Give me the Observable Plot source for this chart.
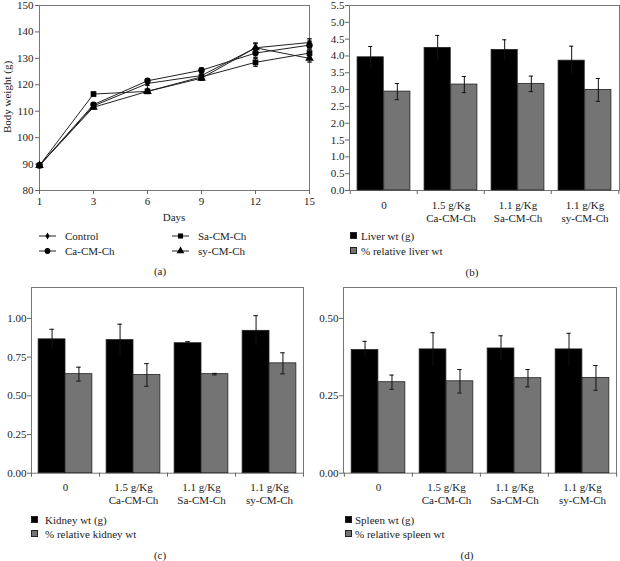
<!DOCTYPE html>
<html><head><meta charset="utf-8">
<script src="https://cdn.jsdelivr.net/npm/d3@7"></script>
<script src="https://cdn.jsdelivr.net/npm/@observablehq/plot@0.6"></script>
<style>
body{margin:0;background:#fff;font-family:"Liberation Serif","DejaVu Serif",serif;}
#root{position:relative;width:620px;height:561px;overflow:hidden;background:#fff;}
.txt{position:absolute;font-size:11px;color:#222;white-space:nowrap;line-height:1;}
</style></head><body><div id="root"></div>
<script>
// ---------- data ----------
const days = [1, 3, 6, 9, 12, 15];
const seriesNames = ["Control", "Ca-CM-Ch", "Sa-CM-Ch", "sy-CM-Ch"];
const controlWt = [89.5, 112.0, 120.5, 123.5, 134.0, 136.0];
const caWt      = [89.5, 112.5, 121.5, 125.5, 132.0, 135.0];
const saWt      = [89.5, 116.5, 117.5, 123.0, 128.5, 132.0];
const syWt      = [89.5, 111.5, 117.5, 122.5, 134.0, 130.0];
const controlErr = [0.5, 0.6, 0.7, 0.8, 1.8, 1.4];
const caErr      = [0.5, 0.6, 0.7, 0.8, 1.6, 1.5];
const saErr      = [0.5, 0.6, 0.7, 0.8, 1.5, 1.5];
const syErr      = [0.5, 0.6, 0.7, 0.8, 1.6, 1.4];
const weightTicks = [80, 90, 100, 110, 120, 130, 140, 150];

const doses = ["0", "1.5 g/Kg\nCa-CM-Ch", "1.1 g/Kg\nSa-CM-Ch", "1.1 g/Kg\nsy-CM-Ch"];
const liverWt     = [3.96, 4.24, 4.18, 3.86];
const liverWtErr  = [0.32, 0.37, 0.30, 0.43];
const liverRel    = [2.94, 3.15, 3.17, 2.99];
const liverRelErr = [0.24, 0.24, 0.23, 0.34];
const liverTicks  = [0, 0.5, 1, 1.5, 2, 2.5, 3, 3.5, 4, 4.5, 5, 5.5];

const kidneyWt     = [0.865, 0.86, 0.84, 0.92];
const kidneyWtErr  = [0.065, 0.103, 0.01, 0.098];
const kidneyRel    = [0.64, 0.635, 0.64, 0.71];
const kidneyRelErr = [0.045, 0.073, 0.005, 0.068];
const kidneyTicks  = [0, 0.25, 0.5, 0.75, 1];

const spleenWt     = [0.398, 0.40, 0.403, 0.40];
const spleenWtErr  = [0.028, 0.054, 0.041, 0.052];
const spleenRel    = [0.294, 0.297, 0.307, 0.308];
const spleenRelErr = [0.023, 0.038, 0.028, 0.04];
const spleenTicks  = [0, 0.25, 0.5];

// ---------- helpers ----------
const root = document.getElementById("root");
const FONT = "'Liberation Serif', 'DejaVu Serif', serif";
function place(el, left, top) {
  el.style.position = "absolute"; el.style.left = left + "px"; el.style.top = top + "px";
  root.appendChild(el);
}
function label(text, x, y, {anchor = "start", rotate = 0, size = 11} = {}) {
  const d = document.createElement("div");
  d.className = "txt"; d.textContent = text; d.style.fontSize = size + "px";
  const tx = anchor === "middle" ? "-50%" : anchor === "end" ? "-100%" : "0";
  d.style.transform = `translate(${tx},-50%)` + (rotate ? ` rotate(${rotate}deg)` : "");
  place(d, x, y);
}
const capSymbol = {draw(ctx, size) { const r = Math.sqrt(size / Math.PI); ctx.moveTo(-r, 0); ctx.lineTo(r, 0); }};
const baseStyle = {fontFamily: FONT, fontSize: "11px", color: "#222", background: "transparent", overflow: "visible"};

// ---------- panel (a) ----------
const wSeries = [controlWt, caWt, saWt, syWt];
const wErrs = [controlErr, caErr, saErr, syErr];
const weightRows = seriesNames.flatMap((s, i) => days.map((d, j) => ({series: s, day: d, w: wSeries[i][j], e: wErrs[i][j]})));

const plotA = Plot.plot({
  width: 320, height: 230, marginLeft: 39, marginRight: 11, marginTop: 5, marginBottom: 40,
  style: baseStyle,
  x: {type: "point", domain: days, padding: 0},
  y: {domain: [80, 150]},
  symbol: {domain: seriesNames, range: ["diamond", "circle", "square", "triangle"]},
  marks: [
    Plot.frame({stroke: "#777"}),
    Plot.axisY({ticks: weightTicks, tickSize: 4, tickPadding: 2, stroke: "#666", label: null}),
    Plot.axisX({ticks: days, tickSize: 4, tickPadding: 3, stroke: "#666", label: null}),
    Plot.line(weightRows, {x: "day", y: "w", z: "series", stroke: "#222", strokeWidth: 1}),
    Plot.ruleX(weightRows, {x: "day", y1: d => d.w - d.e, y2: d => d.w + d.e, stroke: "#222"}),
    Plot.dot(weightRows, {x: "day", y: d => d.w + d.e, symbol: capSymbol, r: 2.2, stroke: "#222", fill: "none"}),
    Plot.dot(weightRows, {x: "day", y: d => d.w - d.e, symbol: capSymbol, r: 2.2, stroke: "#222", fill: "none"}),
    Plot.dot(weightRows.filter(d => d.series !== "Control"), {x: "day", y: "w", symbol: "series", fill: "#000", r: 3.2}),
    Plot.dot(weightRows.filter(d => d.series === "Control"), {x: "day", y: "w", symbol: "series", fill: "#000", r: 2.2})
  ]
});
place(plotA, 0, 0);

// ---------- bar panels ----------
function barPanel({wt, wtErr, rel, relErr, domain, ticks, fmt, width, height, ml, mr, mt, mb}) {
  const rows = doses.map((d, i) => ({dose: d, wt: wt[i], wtE: wtErr[i], rel: rel[i], relE: relErr[i]}));
  const bw = (width - ml - mr) / doses.length;
  const pad = bw * 0.105;
  const barW = bw / 2 - pad;
  const off = bw / 2 - pad - barW / 2;
  const cap = bw / 2 - 2.3;
  return Plot.plot({
    width, height, marginLeft: ml, marginRight: mr, marginTop: mt, marginBottom: mb,
    style: baseStyle,
    x: {type: "band", domain: doses, padding: 0},
    y: {domain},
    marks: [
      Plot.frame({stroke: "#777"}),
      Plot.barY(rows, {x: "dose", y: "wt", fill: "#000", stroke: "#222", strokeWidth: 0.8, insetLeft: pad, insetRight: pad + barW}),
      Plot.barY(rows, {x: "dose", y: "rel", fill: "#747474", stroke: "#222", strokeWidth: 0.8, insetLeft: pad + barW, insetRight: pad}),
      Plot.ruleX(rows, {x: "dose", y1: d => d.wt - d.wtE, y2: d => d.wt + d.wtE, dx: -off, stroke: "#111"}),
      Plot.tickY(rows, {x: "dose", y: d => d.wt + d.wtE, dx: -off, insetLeft: cap, insetRight: cap, stroke: "#111"}),
      Plot.ruleX(rows, {x: "dose", y1: d => d.rel - d.relE, y2: d => d.rel + d.relE, dx: off, stroke: "#111"}),
      Plot.tickY(rows, {x: "dose", y: d => d.rel + d.relE, dx: off, insetLeft: cap, insetRight: cap, stroke: "#111"}),
      Plot.tickY(rows, {x: "dose", y: d => d.rel - d.relE, dx: off, insetLeft: cap, insetRight: cap, stroke: "#111"}),
      Plot.axisY({ticks, tickFormat: fmt, tickSize: 4, tickPadding: 1, stroke: "#666", label: null}),
      Plot.axisX({ticks: doses, tickSize: 4, dx: -bw / 2, stroke: "#666", fill: "none", label: null}),
      Plot.axisX({ticks: [doses[doses.length - 1]], tickSize: 4, dx: bw / 2, stroke: "#666", fill: "none", label: null}),
      Plot.axisX({ticks: doses, tickSize: 0, tickPadding: 9, lineHeight: 1.18, label: null})
    ]
  });
}

const plotB = barPanel({wt: liverWt, wtErr: liverWtErr, rel: liverRel, relErr: liverRelErr,
  domain: [0, 5.5], ticks: liverTicks, fmt: d3.format(".1f"),
  width: 310, height: 230, ml: 39, mr: 1, mt: 5, mb: 40});
place(plotB, 310, 0);

const plotC = barPanel({wt: kidneyWt, wtErr: kidneyWtErr, rel: kidneyRel, relErr: kidneyRelErr,
  domain: [0, 1.2], ticks: kidneyTicks, fmt: d3.format(".2f"),
  width: 310, height: 223, ml: 31, mr: 7, mt: 7, mb: 30.3});
place(plotC, 0, 280);

const plotD = barPanel({wt: spleenWt, wtErr: spleenWtErr, rel: spleenRel, relErr: spleenRelErr,
  domain: [0, 0.6], ticks: spleenTicks, fmt: d3.format(".2f"),
  width: 310, height: 223, ml: 33, mr: 4, mt: 7, mb: 30.3});
place(plotD, 310, 280);

// ---------- texts & legends ----------
label("Body weight (g)", 7, 97, {anchor: "middle", rotate: -90});
label("Days", 174, 217, {anchor: "middle"});

function lineSwatch(symbolType, size, x, y) {
  const svg = d3.create("svg").attr("width", 18).attr("height", 8).style("overflow", "visible");
  svg.append("line").attr("x1", 0).attr("x2", 17).attr("y1", 4).attr("y2", 4).attr("stroke", "#222");
  svg.append("path").attr("transform", "translate(8.5,4)").attr("d", d3.symbol(symbolType, size)()).attr("fill", "#000");
  const n = svg.node(); place(n, x, y - 4);
}
const legA = [
  [seriesNames[0], d3.symbolDiamond, 14, 39, 236],
  [seriesNames[1], d3.symbolCircle, 26, 39, 251],
  [seriesNames[2], d3.symbolSquare, 26, 172, 236],
  [seriesNames[3], d3.symbolTriangle, 26, 172, 251]
];
legA.forEach(([name, sym, sz, x, y]) => { lineSwatch(sym, sz, x, y); label(name, x + 26, y); });
label("(a)", 160, 271, {anchor: "middle"});

function squareSwatch(fill, x, y) {
  const d = document.createElement("div");
  d.style.width = "7px"; d.style.height = "7px"; d.style.background = fill;
  d.style.border = "1px solid #222"; d.style.boxSizing = "border-box";
  place(d, x, y - 4);
}
function barLegend(names, x, y0, dy, gap) {
  squareSwatch("#000", x, y0); label(names[0], x + gap, y0);
  squareSwatch("#747474", x, y0 + dy); label(names[1], x + gap, y0 + dy);
}
barLegend(["Liver wt (g)", "% relative liver wt"], 350, 236, 15, 11);
label("(b)", 472, 272, {anchor: "middle"});
barLegend(["Kidney wt (g)", "% relative kidney wt"], 31, 520, 14, 14);
label("(c)", 160, 555, {anchor: "middle"});
barLegend(["Spleen wt (g)", "% relative spleen wt"], 345, 520, 14, 10);
label("(d)", 467, 555, {anchor: "middle"});
</script></body></html>
